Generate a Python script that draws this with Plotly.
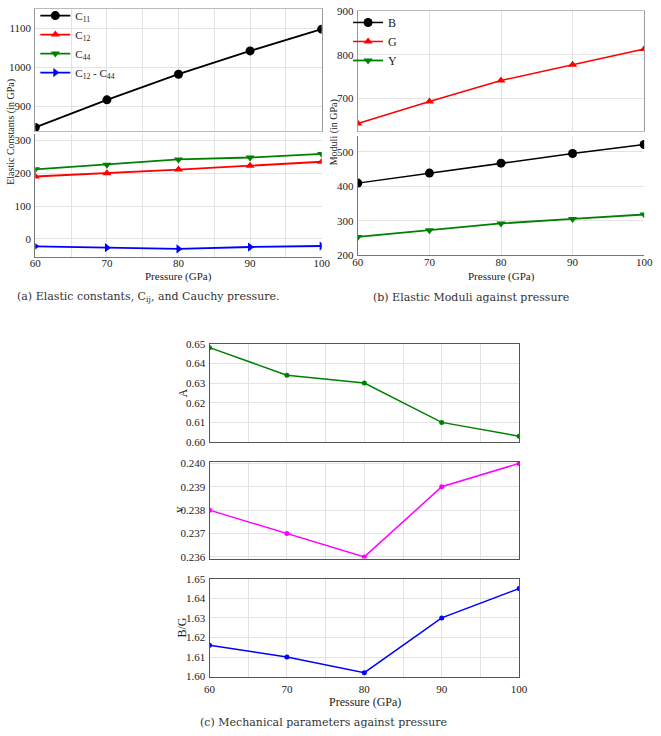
import plotly.graph_objects as go

W, H = 661, 736

# ---------------- data ----------------
pressure = [60, 70, 80, 90, 100]

# (a) elastic constants
c11 = [845, 916, 982, 1042, 1098]
c12 = [190, 200, 211, 223, 235]
c44 = [212, 226, 242, 248, 259]
c12_c44 = [-23, -27, -31, -25, -22]

# (b) elastic moduli
bulk = [409, 438, 467, 495, 521]
shear = [643, 693, 741, 777, 813]
young = [253, 272, 292, 305, 318]

# (c) mechanical parameters
anis = [0.648, 0.634, 0.630, 0.610, 0.603]
poisson = [0.238, 0.237, 0.236, 0.239, 0.240]
b_over_g = [1.616, 1.610, 1.602, 1.630, 1.645]

# tick labels
x_ticks = [60, 70, 80, 90, 100]
a_top_ticks = [900, 1000, 1100]
a_bot_ticks = [0, 100, 200, 300]
b_top_ticks = [700, 800, 900]
b_bot_ticks = [200, 300, 400, 500]
c1_ticks = [0.60, 0.61, 0.62, 0.63, 0.64, 0.65]
c2_ticks = [0.236, 0.237, 0.238, 0.239, 0.240]
c3_ticks = [1.60, 1.61, 1.62, 1.63, 1.64, 1.65]

SERIF = "Liberation Serif, Times New Roman, serif"
CAPF = "DejaVu Serif, serif"
GRID = "#e3e3e3"
AX = "#777777"
BOX = "#555555"

def px_x(a, b):
    return [a / W, b / W]

def px_y(top, bot):
    return [1 - bot / H, 1 - top / H]

fig = go.Figure()

def add(x, y, name, color, symbol, size, xa, ya, legend="legend", show=False, lw=1.8):
    fig.add_trace(go.Scatter(
        x=x, y=y, name=name, mode="lines+markers",
        line=dict(color=color, width=lw),
        marker=dict(color=color, symbol=symbol, size=size),
        xaxis=xa, yaxis=ya, showlegend=show, legend=legend,
    ))

# (a)
add(pressure, c11, "C<sub>11</sub>", "black", "circle", 9, "x", "y", "legend", True)
add(pressure, c12, "C<sub>12</sub>", "red", "triangle-up", 8, "x2", "y2", "legend", True)
add(pressure, c44, "C<sub>44</sub>", "green", "triangle-down", 8, "x2", "y2", "legend", True)
add(pressure, c12_c44, "C<sub>12</sub> - C<sub>44</sub>", "blue", "triangle-right", 8, "x2", "y2", "legend", True)

# (b)
add(pressure, bulk, "B", "black", "circle", 9, "x4", "y4", "legend2", True, lw=1.5)
add(pressure, shear, "G", "red", "triangle-up", 8, "x3", "y3", "legend2", True, lw=1.5)
add(pressure, young, "Y", "green", "triangle-down", 8, "x4", "y4", "legend2", True)

# (c)
add(pressure, anis, "A", "green", "circle", 5, "x5", "y5", lw=1.5)
add(pressure, poisson, "ν", "magenta", "circle", 5, "x6", "y6", lw=1.5)
add(pressure, b_over_g, "B/G", "blue", "circle", 5, "x7", "y7", lw=1.5)

tickfont = dict(family=SERIF, size=11, color="#222")
tickfont_c = dict(family=SERIF, size=11, color="#222")

def xaxis(dom, anchor, labels, minor=True, mirror=False, linecolor=AX, font=tickfont, standoff=0):
    d = dict(domain=dom, anchor=anchor, range=[60, 100], tickvals=x_ticks,
             showticklabels=labels, showgrid=True, gridcolor=GRID, gridwidth=1,
             zeroline=False, showline=True, linecolor=linecolor, linewidth=1.3,
             mirror=mirror, ticks="", tickfont=font, ticklabelstandoff=standoff)
    if minor:
        d["minor"] = dict(dtick=5, showgrid=True, gridcolor=GRID, gridwidth=1)
    return d

def yaxis(dom, anchor, rng, ticks, fmt=None, mirror=False, linecolor=AX, font=tickfont):
    d = dict(domain=dom, anchor=anchor, range=rng, tickvals=ticks,
             showgrid=True, gridcolor=GRID, gridwidth=1, zeroline=False,
             showline=True, linecolor=linecolor, linewidth=1.3, mirror=mirror,
             ticks="", tickfont=font, ticklabelstandoff=1)
    if fmt:
        d["tickformat"] = fmt
    return d

ax_a = px_x(30, 323)
ax_b = px_x(360, 653)
ax_c = px_x(208.3, 525)

layout = dict(
    width=W, height=H, autosize=False,
    margin=dict(l=0, r=0, t=0, b=0),
    paper_bgcolor="white", plot_bgcolor="white",
    font=dict(family=SERIF, color="#222"),
    xaxis=xaxis(ax_a, "y", False, mirror=True, linecolor="#bbbbbb"),
    yaxis=yaxis(px_y(3, 127), "x", [836, 1150], a_top_ticks, mirror=True, linecolor="#999999"),
    xaxis2=xaxis(ax_a, "y2", True, standoff=-4),
    yaxis2=yaxis(px_y(130, 255), "x2", [-55, 320], a_bot_ticks),
    xaxis3=xaxis(ax_b, "y3", False, minor=False, mirror=True, linecolor="#bbbbbb"),
    yaxis3=yaxis(px_y(5, 127), "x3", [626, 900], b_top_ticks, mirror=True, linecolor="#999999"),
    xaxis4=xaxis(ax_b, "y4", True, minor=False, standoff=-4),
    yaxis4=yaxis(px_y(131.7, 253.3), "x4", [200, 547], b_bot_ticks),
    xaxis5=xaxis(ax_c, "y5", False, mirror=True, linecolor=BOX, font=tickfont_c),
    yaxis5=yaxis(px_y(343.3, 443.3), "x5", [0.60, 0.65], c1_ticks, ".2f", mirror=True, linecolor=BOX, font=tickfont_c),
    xaxis6=xaxis(ax_c, "y6", False, mirror=True, linecolor=BOX, font=tickfont_c),
    yaxis6=yaxis(px_y(463.3, 561.7), "x6", [0.23593, 0.24007], c2_ticks, ".3f", mirror=True, linecolor=BOX, font=tickfont_c),
    xaxis7=xaxis(ax_c, "y7", True, mirror=True, linecolor=BOX, font=tickfont_c, standoff=2),
    yaxis7=yaxis(px_y(582.3, 681.7), "x7", [1.60, 1.65], c3_ticks, ".2f", mirror=True, linecolor=BOX, font=tickfont_c),
    legend=dict(x=30 / W, y=1 + 5 / H, xanchor="left", yanchor="top",
                bgcolor="rgba(0,0,0,0)", font=dict(family=SERIF, size=11, color="#222"),
                itemwidth=30, tracegroupgap=0),
    legend2=dict(x=350 / W, y=1 - 2 / H, xanchor="left", yanchor="top",
                 bgcolor="rgba(0,0,0,0)", font=dict(family=SERIF, size=12, color="#222"),
                 itemwidth=30, tracegroupgap=0),
)
fig.update_layout(**layout)

def ann(text, xp, yp, size=12, angle=0, family=SERIF, color="#222"):
    fig.add_annotation(text=text, x=xp / W, y=1 - yp / H, xref="paper", yref="paper",
                       showarrow=False, textangle=angle, xanchor="center", yanchor="middle",
                       font=dict(family=family, size=size, color=color))

# axis titles
ann("Elastic Constants (in GPa)", 5, 128, size=10, angle=-90)
ann("Moduli (in GPa)", 336, 128, size=10, angle=-90)
ann("Pressure (GPa)", 176, 275, size=11)
ann("Pressure (GPa)", 507, 275, size=11)
ann("A", 181, 393, size=12, angle=-90)
ann("v", 177, 512, size=12, angle=-90)
ann("B/G", 180, 632, size=12, angle=-90)
ann("Pressure (GPa)", 367, 708, size=12)

# captions
ann("(a) Elastic constants, C<sub>ij</sub>, and Cauchy pressure.", 146, 296, size=11, family=CAPF, color="#333")
ann("(b) Elastic Moduli against pressure", 476, 296, size=11, family=CAPF, color="#333")
ann("(c) Mechanical parameters against pressure", 325, 728, size=11, family=CAPF, color="#333")

fig.write_html("out.html", config={"displayModeBar": False},
               post_script="document.body.style.margin='0';document.body.style.overflow='hidden';")
